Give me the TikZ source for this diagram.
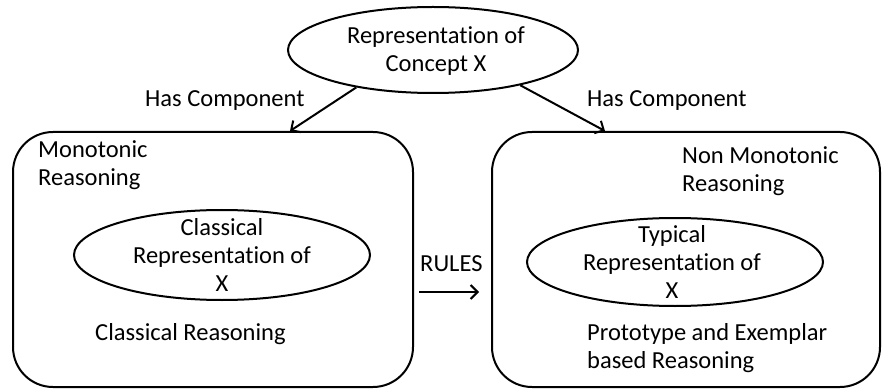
\documentclass[tikz,border=0pt]{standalone}
\usepackage{fontspec}
\setmainfont[Ligatures=NoCommon]{Carlito}
\usetikzlibrary{shapes.geometric,arrows.meta,calc}
\begin{document}
\begin{tikzpicture}[x=1pt,y=-1pt,
  every node/.style={font=\fontsize{24.5}{28}\selectfont, inner sep=0pt},
  oval/.style={draw, ellipse, line width=2pt},
  roundbox/.style={draw, rounded corners=40pt, line width=2pt},
  conn/.style={line width=2pt, -{Straight Barb[length=7pt,width=14pt,line width=2pt]}},
  lbl/.style={anchor=north west, align=left},
  ctr/.style={anchor=north, align=center}]
\useasboundingbox (0,0) rectangle (883,390);
% top ellipse
\node[oval, minimum width=290pt, minimum height=86pt] (top) at (433,50) {};
\node[ctr] (toptxt) at (436,26) {Representation of\\Concept X};
% boxes
\node[roundbox, minimum width=400pt, minimum height=255pt] (lbox) at (213,259.5) {};
\node[roundbox, minimum width=388pt, minimum height=255pt] (rbox) at (686,259.5) {};
% inner ellipses
\node[oval, minimum width=296pt, minimum height=90pt] (cl) at (222,255) {};
\node[oval, minimum width=296pt, minimum height=88pt] (ty) at (675,262) {};
\node[ctr] (cltxt) at (222,218) {Classical\\Representation of\\X};
\node[ctr] (tytxt) at (672,225) {Typical\\Representation of\\X};
% labels
\node[lbl] (mono) at (38,140) {Monotonic\\Reasoning};
\node[lbl] (clr) at (95,323) {Classical Reasoning};
\node[lbl] (nmono) at (682,146) {Non Monotonic\\Reasoning};
\node[lbl] (proto) at (587,323) {Prototype and Exemplar\\based Reasoning};
\node[lbl] (rules) at (420,255) {RULES};
\node[lbl] (hc1) at (145,90) {Has Component};
\node[lbl] (hc2) at (587,90) {Has Component};
% connectors
\draw[conn] (top.206) -- ([xshift=77pt]lbox.north);
\draw[conn] (top.338) -- ([xshift=-81pt]rbox.north);
\coordinate (r1) at (419,292);
\coordinate (r2) at (479,292);
\draw[conn] (r1) -- (r2);
\end{tikzpicture}
\end{document}
